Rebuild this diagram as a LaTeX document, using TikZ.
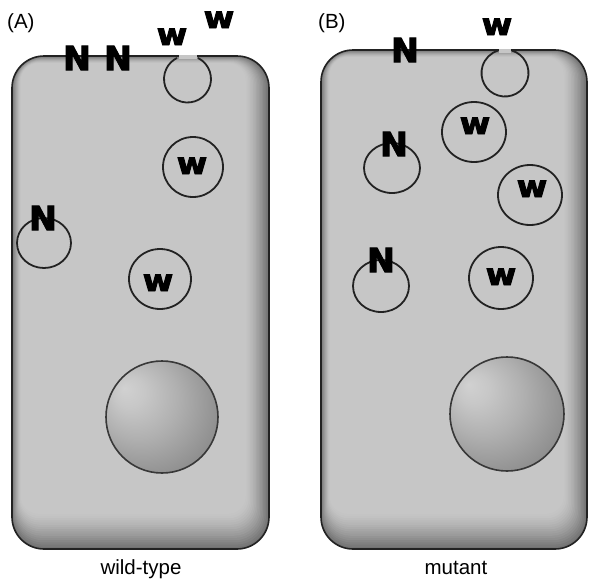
\documentclass[tikz,border=0pt]{standalone}
\usepackage{fontspec}
\setmainfont{Liberation Sans}
\newfontfamily\heavyfont{DejaVu Sans Bold}[FakeBold=3]

\definecolor{celllight}{HTML}{C6C6C6}
\definecolor{celldark}{HTML}{727272}
\definecolor{lineink}{HTML}{222222}

% soft sphere for the nucleus, lit from the upper left
\pgfdeclareradialshading{nucleusshade}{\pgfpoint{-17bp}{13bp}}{%
  rgb(0bp)=(0.82,0.82,0.82);
  rgb(7bp)=(0.78,0.78,0.78);
  rgb(18bp)=(0.69,0.69,0.69);
  rgb(32bp)=(0.56,0.56,0.56);
  rgb(44bp)=(0.42,0.42,0.42);
  rgb(50bp)=(0.34,0.34,0.34)}

% bevelled cell body: left, top, right, bottom
\newcommand\cellbody[4]{%
  \foreach \i in {0,...,16}{%
    \pgfmathsetmacro\mix{100*(1-(1-\i/16)^1.4)}%
    \pgfmathsetmacro\rc{32-\i*0.9}%
    \fill[celllight!\mix!celldark, rounded corners=\rc pt]
      (#1+\i*0.55,#2+\i*0.45) rectangle (#3-\i*1.45,#4-\i*2.2);
  }%
  \draw[cellline] (#1,#2) rectangle (#3,#4);
}

\tikzset{
  cellline/.style={draw=lineink, line width=1.6pt, rounded corners=32pt},
  vesicle/.style={draw=lineink, line width=1.8pt, fill=celllight},
  nucleus/.style={draw=lineink!90, line width=1.6pt, shading=nucleusshade},
  protN/.style={font=\heavyfont\fontsize{33}{33}\selectfont, inner sep=0pt, anchor=base},
  protW/.style={font=\heavyfont\fontsize{30}{30}\selectfont, inner sep=0pt, anchor=base, xscale=1.1},
  panel/.style={font=\fontsize{20.5}{22}\selectfont, inner sep=0pt},
}

\begin{document}
\begin{tikzpicture}[x=1pt, y=-1pt]
\useasboundingbox (0,0) rectangle (590,582);
\fill[white] (0,0) rectangle (590,582);

% ---------------- wild-type cell ----------------
\cellbody{12}{56}{269}{549}
% opening of the fusing vesicle at the membrane (y grows downward, so 270 is up)
\fill[celllight] (178.5,55.2) rectangle (196.5,59);
\draw[vesicle, fill=none] (187.5,79) ++(296.5:23.5) arc[start angle=296.5, end angle=603.5, radius=23.5];
\draw[vesicle] (193,167) ellipse[x radius=30, y radius=30];
\draw[vesicle] (44,243) ellipse[x radius=27, y radius=25];
\draw[vesicle] (160,279) ellipse[x radius=31, y radius=30];
\shade[nucleus] (162,417) circle[radius=56];

\node[protN] (aN1) at (77,70) {N};
\node[protN] (aN2) at (118,70) {N};
\node[protW] (aW1) at (172,45) {w};
\node[protW] (aW2) at (219,28) {w};
\node[protW] (aW3) at (192,174) {w};
\node[protN] (aN3) at (43,230) {N};
\node[protW] (aW4) at (158,291) {w};

\node[panel, anchor=west] (labA) at (7,23) {(A)};
\node[panel, anchor=base] (wt) at (141,574) {wild-type};

% ---------------- mutant cell ----------------
\cellbody{321}{50}{587}{549}
\fill[celllight] (499,49.2) rectangle (511,53);
\draw[vesicle, fill=none] (505,73) ++(287:23.5) arc[start angle=287, end angle=613, radius=23.5];
\draw[vesicle] (474,132) ellipse[x radius=32, y radius=30];
\draw[vesicle] (392,168) ellipse[x radius=28, y radius=25];
\draw[vesicle] (530,195) ellipse[x radius=32, y radius=30];
\draw[vesicle] (381,286) ellipse[x radius=28, y radius=26];
\draw[vesicle] (501,278) ellipse[x radius=32, y radius=31];
\shade[nucleus] (507,414) circle[radius=57];

\node[protN] (bN1) at (405,62) {N};
\node[protW] (bW1) at (497,35) {w};
\node[protW] (bW2) at (475,134) {w};
\node[protN] (bN2) at (394,156) {N};
\node[protW] (bW3) at (532,197) {w};
\node[protN] (bN3) at (381,272) {N};
\node[protW] (bW4) at (501,285) {w};

\node[panel, anchor=west] (labB) at (318,23) {(B)};
\node[panel, anchor=base] (mut) at (456,574) {mutant};
\end{tikzpicture}
\end{document}
